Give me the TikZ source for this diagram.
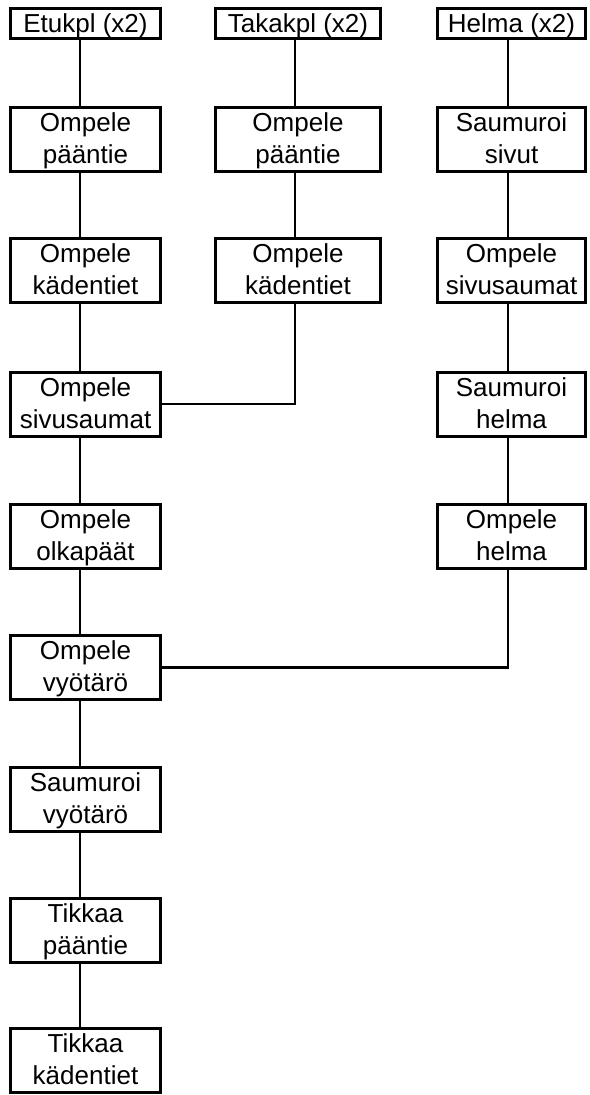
\documentclass[tikz,border=0pt]{standalone}
\usepackage{fontspec}
\setmainfont{Liberation Sans}
\newcommand\fststrut{\rule{0pt}{22pt}}
\newcommand\lststrut{\rule[-5.6pt]{0pt}{5.6pt}}
\newcommand\onestrut{\rule[-6.4pt]{0pt}{30.4pt}}
\begin{document}
\begin{tikzpicture}[x=1pt,y=-1pt,
  box/.style={draw, line width=3pt, align=center, inner sep=0pt,
    font=\fontsize{26}{32}\selectfont, minimum height=64pt},
  topbox/.style={box, minimum height=30pt},
  c1/.style={minimum width=150pt},
  c2/.style={minimum width=165pt},
  c3/.style={minimum width=148pt},
  link/.style={line width=2.2pt}]
\useasboundingbox (0,0) rectangle (589,1095);
% column 1
\node[topbox,c1] (e0) at (85.5,23.5) {\onestrut Etukpl (x2)};
\node[box,c1] (e1) at (85.5,139.5) {\fststrut Ompele\\pääntie\lststrut};
\node[box,c1] (e2) at (85.5,270) {\fststrut Ompele\\kädentiet\lststrut};
\node[box,c1] (e3) at (85.5,404) {\fststrut Ompele\\sivusaumat\lststrut};
\node[box,c1] (e4) at (85.5,536.5) {\fststrut Ompele\\olkapäät\lststrut};
\node[box,c1] (e5) at (85.5,667.5) {\fststrut Ompele\\vyötärö\lststrut};
\node[box,c1] (e6) at (85.5,799.5) {\fststrut Saumuroi\\vyötärö\lststrut};
\node[box,c1] (e7) at (85.5,930.5) {\fststrut Tikkaa\\pääntie\lststrut};
\node[box,c1] (e8) at (85.5,1060.5) {\fststrut Tikkaa\\kädentiet\lststrut};
% column 2
\node[topbox,c2] (t0) at (298,23.5) {\onestrut Takakpl (x2)};
\node[box,c2] (t1) at (298,139.5) {\fststrut Ompele\\pääntie\lststrut};
\node[box,c2] (t2) at (298,270) {\fststrut Ompele\\kädentiet\lststrut};
% column 3
\node[topbox,c3] (h0) at (511.5,23.5) {\onestrut Helma (x2)};
\node[box,c3] (h1) at (511.5,139.5) {\fststrut Saumuroi\\sivut\lststrut};
\node[box,c3] (h2) at (511.5,270) {\fststrut Ompele\\sivusaumat\lststrut};
\node[box,c3] (h3) at (511.5,404) {\fststrut Saumuroi\\helma\lststrut};
\node[box,c3] (h4) at (511.5,536.5) {\fststrut Ompele\\helma\lststrut};
% connectors
\foreach \a/\b in {e0/e1,e1/e2,e2/e3,e3/e4,e4/e5,e5/e6,e6/e7,e7/e8}
  \draw[link] ([xshift=-5.5pt]\a.south) -- ([xshift=-5.5pt]\b.north);
\foreach \a/\b in {t0/t1,t1/t2}
  \draw[link] ([xshift=-3pt]\a.south) -- ([xshift=-3pt]\b.north);
\foreach \a/\b in {h0/h1,h1/h2,h2/h3,h3/h4}
  \draw[link] ([xshift=-3.5pt]\a.south) -- ([xshift=-3.5pt]\b.north);
\draw[link] (e3.east) -| ([xshift=-3pt]t2.south);
\draw[link] (e5.east) -| ([xshift=-3.5pt]h4.south);
\end{tikzpicture}
\end{document}
